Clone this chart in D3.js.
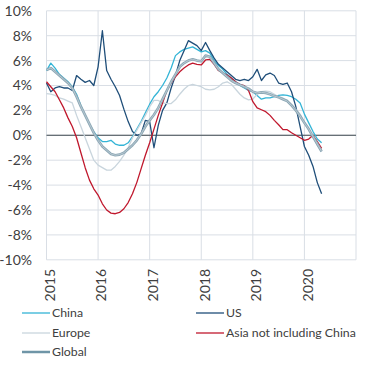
<!DOCTYPE html>
<html><head><meta charset="utf-8">
<script src="https://cdn.jsdelivr.net/npm/d3@7/dist/d3.min.js"></script>
<style>body{margin:0;background:#fff}svg{display:block}text{font-family:Lato,"Open Sans",sans-serif;fill:#404040}</style>
</head><body><svg id="c" width="366" height="365"></svg>
<script>
const years = ["2015","2016","2017","2018","2019","2020"];
const yTicks = [-10,-8,-6,-4,-2,0,2,4,6,8,10];
const seriesNames = ["China","US","Europe","Asia not including China","Global"];
const china = [5.2,5.8,5.4,4.9,4.6,4.3,3.9,3.3,2.4,1.6,0.9,0.3,-0.2,-0.5,-0.5,-0.4,-0.7,-0.8,-0.8,-0.6,-0.1,0.5,1.1,1.8,2.5,3.1,3.5,4.0,4.6,5.4,6.4,6.7,6.9,7.0,7.1,6.9,6.7,6.8,6.6,6.0,5.6,5.3,4.9,4.6,4.3,4.0,3.8,3.6,3.5,3.2,2.9,3.0,3.0,3.1,3.2,3.25,3.2,3.1,2.9,2.6,1.7,1.0,0.3,-0.3,-0.6];
const us = [4.2,3.5,3.8,3.9,3.8,3.8,3.6,4.8,4.5,4.25,4.4,4.0,5.5,8.4,5.2,4.5,3.9,3.2,2.1,1.1,0.3,0.0,0.1,1.2,1.1,-1.0,0.8,2.0,2.6,3.8,4.8,6.0,6.8,7.6,7.4,7.2,6.8,7.45,6.8,6.2,5.7,5.4,5.1,4.8,4.5,4.4,4.5,4.4,4.7,5.3,4.4,4.85,5.0,4.8,4.2,4.1,4.2,3.5,2.3,0.7,-0.9,-1.6,-2.5,-3.8,-4.7];
const europe = [3.35,3.3,3.2,3.0,2.9,2.75,2.6,1.6,0.7,-0.2,-1.1,-2.0,-2.4,-2.6,-2.8,-2.8,-2.5,-2.1,-1.6,-1.0,-0.2,0.4,1.0,1.6,2.3,2.8,2.8,2.6,2.55,2.55,2.85,3.3,3.7,4.0,4.1,4.0,3.9,3.7,3.65,3.7,3.9,4.2,4.3,4.1,3.7,3.3,3.0,2.85,2.9,3.3,3.5,3.55,3.5,3.3,3.1,3.0,2.8,2.5,2.1,1.7,1.0,0.4,-0.2,-0.8,-1.3];
const asia = [4.3,3.9,3.5,2.85,2.2,1.4,0.7,-0.2,-1.4,-2.6,-3.6,-4.3,-4.8,-5.5,-6.0,-6.25,-6.3,-6.2,-5.9,-5.4,-4.7,-3.8,-2.7,-1.6,-0.6,0.5,1.6,2.6,3.6,4.2,4.7,5.1,5.4,5.65,5.8,5.7,5.65,6.05,6.1,5.7,5.2,5.0,4.85,4.6,4.3,4.1,4.0,3.6,2.7,2.2,2.05,1.9,1.6,1.2,0.85,0.45,0.45,0.2,0.0,-0.2,-0.4,-0.3,0.0,-0.5,-1.05];
const global = [5.25,5.4,5.1,4.8,4.5,4.2,3.8,3.1,2.3,1.6,0.9,0.2,-0.4,-0.9,-1.2,-1.5,-1.6,-1.55,-1.4,-1.1,-0.8,-0.4,0.1,0.7,1.2,1.65,2.2,2.9,3.6,4.3,4.9,5.5,5.8,6.0,6.1,6.0,5.95,6.4,6.3,5.8,5.3,5.0,4.7,4.4,4.2,4.05,3.9,3.75,3.5,3.4,3.45,3.4,3.3,3.15,3.05,2.9,2.75,2.4,2.0,1.55,1.0,0.5,-0.1,-0.7,-1.3];

const svg = d3.select("#c");
const x = d3.scaleLinear().domain([0,72]).range([46.5,356]);
const y = d3.scaleLinear().domain([-10,10]).range([259.8,10.8]);

const g = svg.append("g");
g.selectAll(".hg").data(yTicks).join("line")
  .attr("x1",x(0)).attr("x2",x(72)).attr("y1",d=>y(d)).attr("y2",d=>y(d))
  .attr("stroke","#d9dee5").attr("stroke-width",1);
const vt = d3.range(0,7).map(i=>i*12);
g.selectAll(".vg").data(vt).join("line")
  .attr("x1",d=>x(d)).attr("x2",d=>x(d)).attr("y1",y(10)).attr("y2",y(-10))
  .attr("stroke","#d9dee5").attr("stroke-width",1);
g.append("line").attr("x1",x(0)).attr("x2",x(72)).attr("y1",y(0)).attr("y2",y(0))
  .attr("stroke","#3f4a4f").attr("stroke-width",1.1);

g.selectAll(".yl").data(yTicks).join("text")
  .attr("x",32).attr("y",d=>y(d)).attr("dy","0.35em").attr("text-anchor","end")
  .attr("font-size",14).text(d=>d+"%");
g.selectAll(".xl").data(years).join("text")
  .attr("transform",(d,i)=>`translate(${x(i*12)+3.5},269) rotate(-90)`)
  .attr("text-anchor","end").attr("dy","0.35em").attr("font-size",14).text(d=>d);

const line = d3.line().x((d,i)=>x(i)).y(d=>y(d));
const styles = [
  {data:china, color:"#33b4d6", w:1.3},
  {data:us, color:"#1f4e79", w:1.3},
  {data:europe, color:"#c9d5dd", w:1.3},
  {data:asia, color:"#c0182d", w:1.3},
];
styles.forEach(s=>{
  g.append("path").attr("d",line(s.data)).attr("fill","none").attr("stroke",s.color).attr("stroke-width",s.w).attr("stroke-linejoin","round");
});
g.append("path").attr("d",line(global)).attr("fill","none").attr("stroke","#8ca7b5").attr("stroke-width",2.6).attr("stroke-linejoin","round");
g.append("path").attr("d",line(global)).attr("fill","none").attr("stroke","#c3d0d8").attr("stroke-width",0.8).attr("stroke-linejoin","round");

const leg = [
  {name:seriesNames[0], color:"#33b4d6", w:1.3, lx:22, ly:313},
  {name:seriesNames[1], color:"#1f4e79", w:1.3, lx:196, ly:313},
  {name:seriesNames[2], color:"#c9d5dd", w:1.3, lx:22, ly:333},
  {name:seriesNames[3], color:"#c0182d", w:1.3, lx:196, ly:333},
  {name:seriesNames[4], color:"#6f95a7", w:2.5, lx:22, ly:352},
];
leg.forEach(l=>{
  g.append("line").attr("x1",l.lx).attr("x2",l.lx+28).attr("y1",l.ly).attr("y2",l.ly).attr("stroke",l.color).attr("stroke-width",l.w);
  g.append("text").attr("x",l.lx+30).attr("y",l.ly).attr("dy","0.35em").attr("font-size",12.3).text(l.name);
});
</script></body></html>
